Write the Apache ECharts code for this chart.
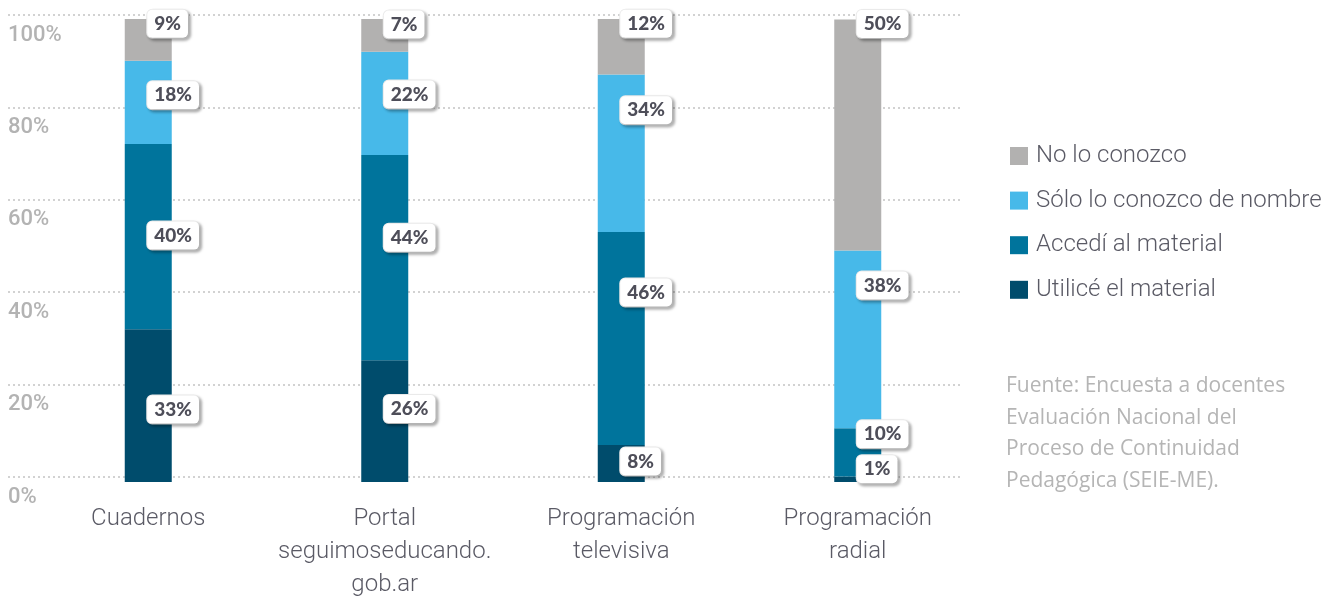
<!DOCTYPE html>
<html>
<head>
<meta charset="utf-8">
<script src="https://cdn.jsdelivr.net/npm/echarts@6/dist/echarts.min.js"></script>
<style>
  html, body { margin: 0; padding: 0; background: #fff; }
  #chart { width: 1338px; height: 598px; }
</style>
</head>
<body>
<div id="chart"></div>
<script>
// categorías del eje x
var categories = ['Cuadernos', 'Portal\nseguimoseducando.\ngob.ar', 'Programación\ntelevisiva', 'Programación\nradial'];
// valores (%) por serie, de abajo hacia arriba
var utilice = [33, 26.3, 8, 1.2];
var accedi = [40, 44.3, 46, 10.4];
var soloNombre = [18, 22.3, 34, 38.4];
var noConozco = [9, 7.1, 12, 49.9];
var seriesNames = ['Utilicé el material', 'Accedí al material', 'Sólo lo conozco de nombre', 'No lo conozco'];
var yTicks = [0, 20, 40, 60, 80, 100];
var fuente = 'Fuente: Encuesta a docentes\nEvaluación Nacional del\nProceso de Continuidad\nPedagógica (SEIE-ME).';

var colors = ['#004c6c', '#00749c', '#47b9e9', '#b2b1b0'];
// desplazamiento vertical de cada etiqueta respecto al centro del segmento
var labelShift = [
    [4, -12, -2, -10],
    [-1, -20, -46, -18],
    [-7, -9, -43, -54],
    [-16, -11, -23, -111]
];

var chart = echarts.init(document.getElementById('chart'));

function buildSeries(values, idx) {
    return {
        name: seriesNames[idx],
        type: 'bar',
        stack: 'total',
        xAxisIndex: 1,
        yAxisIndex: 1,
        barWidth: 47,
        itemStyle: { color: colors[idx] },
        label: {
            show: true,
            position: ['50%', '50%'],
            align: 'left',
            verticalAlign: 'middle',
            formatter: function (p) {
                return Math.round(p.value) + '%';
            },
            color: '#4e4e59',
            fontFamily: 'Lato',
            fontWeight: 900,
            fontSize: 19,
            backgroundColor: '#fff',
            borderColor: '#ececec',
            borderWidth: 1,
            borderRadius: 5,
            padding: [5, 7, 4, 7],
            shadowColor: 'rgba(0,0,0,0.28)',
            shadowBlur: 3,
            shadowOffsetX: 2,
            shadowOffsetY: 2
        },
        data: values.map(function (v, j) {
            return { value: v, label: { offset: [-1, labelShift[idx][j]] } };
        })
    };
}

var option = {
    animation: false,
    color: colors,
    legend: {
        orient: 'vertical',
        left: 1005,
        top: 138,
        itemWidth: 18,
        itemHeight: 18,
        itemGap: 18.6,
        icon: 'rect',
        data: seriesNames.slice().reverse(),
        textStyle: {
            color: '#5a5a65',
            fontFamily: 'Roboto',
            fontWeight: 300,
            fontSize: 24,
            lineHeight: 26,
            padding: [0, 0, 0, 3]
        }
    },
    grid: [
        // rejilla de líneas punteadas
        { left: 8, right: 378, top: 15, bottom: 121, outerBoundsMode: 'none' },
        // barras
        { left: 30, width: 946, top: 19, bottom: 116, outerBoundsMode: 'none' }
    ],
    xAxis: [
        { type: 'category', gridIndex: 0, show: false, data: categories },
        {
            type: 'category',
            gridIndex: 1,
            data: categories,
            axisLine: { show: false },
            axisTick: { show: false },
            axisLabel: {
                interval: 0,
                margin: 20,
                color: '#5a5a65',
                fontFamily: 'Roboto',
                fontWeight: 300,
                fontSize: 24,
                lineHeight: 33
            }
        }
    ],
    yAxis: [
        {
            type: 'value',
            gridIndex: 0,
            min: yTicks[0],
            max: yTicks[yTicks.length - 1],
            interval: 20,
            axisLine: { show: false },
            axisTick: { show: false },
            splitLine: { lineStyle: { color: '#c4c4c4', width: 1.5, type: [2, 3] } },
            axisLabel: {
                inside: true,
                margin: 0,
                verticalAlign: 'top',
                padding: [9, 0, 0, 0],
                formatter: '{value}%',
                color: '#b3b3b3',
                fontFamily: 'Roboto',
                fontWeight: 500,
                fontSize: 22
            }
        },
        { type: 'value', gridIndex: 1, min: 0, max: 100, show: false }
    ],
    graphic: [{
        type: 'text',
        left: 1006,
        top: 370,
        style: {
            text: fuente,
            fill: '#b5b5b5',
            font: '21px "Open Sans"',
            lineHeight: 31.7
        }
    }],
    series: [
        buildSeries(utilice, 0),
        buildSeries(accedi, 1),
        buildSeries(soloNombre, 2),
        buildSeries(noConozco, 3)
    ]
};

chart.setOption(option);
</script>
</body>
</html>
